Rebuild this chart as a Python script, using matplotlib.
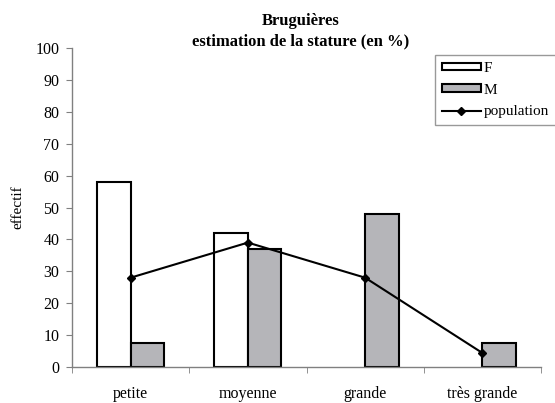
import matplotlib
matplotlib.use("Agg")
import matplotlib.pyplot as plt
import numpy as np

categories = ["petite", "moyenne", "grande", "très grande"]
femmes = [58, 42, 0, 0]
hommes = [7.5, 37, 48, 7.5]
population = [28, 39, 28, 4.4]
yticks = [0, 10, 20, 30, 40, 50, 60, 70, 80, 90, 100]

plt.rcParams["font.family"] = ["Liberation Serif", "DejaVu Serif"]

fig = plt.figure(figsize=(5.55, 4.03), dpi=100)
ax = fig.add_axes([72 / 555, 1 - 367 / 403, (541 - 72) / 555, (367 - 48) / 403])

x = np.arange(len(categories))
w = 0.286


def edges(values):
    # empty bars get no outline
    return ["black" if v > 0 else "none" for v in values]


ax.bar(x - w / 2, femmes, width=w, color="white", edgecolor=edges(femmes), linewidth=1.5, label="F")
ax.bar(x + w / 2, hommes, width=w, color="#b5b5b9", edgecolor=edges(hommes), linewidth=1.5, label="M")
lp, = ax.plot(x, population, color="black", linewidth=1.5, marker="D", markersize=4, label="population")

ax.set_xlim(-0.5, len(categories) - 0.5)
ax.set_ylim(0, 100)
ax.set_yticks(yticks)
ax.tick_params(axis="y", labelsize=11.5, length=4, color="#808080", pad=5)

ax.set_xticks(x)
ax.set_xticklabels(categories)
ax.set_xticks(np.arange(-0.5, len(categories), 1.0), minor=True)
ax.tick_params(axis="x", which="major", length=0, labelsize=11.5, pad=14)
ax.tick_params(axis="x", which="minor", length=4, color="#808080")

for side in ("top", "right"):
    ax.spines[side].set_visible(False)
for side in ("left", "bottom"):
    ax.spines[side].set_color("#808080")
    ax.spines[side].set_linewidth(1.0)

ax.set_ylabel("effectif", fontsize=11, labelpad=8)

fig.text(301 / 555, 1 - 21 / 403, "Bruguières", ha="center", va="center", fontsize=12, fontweight="bold")
fig.text(301 / 555, 1 - 41 / 403, "estimation de la stature (en %)", ha="center", va="center",
         fontsize=12, fontweight="bold")

bf_handle = plt.Rectangle((0, 0), 1, 1, facecolor="white", edgecolor="black", linewidth=1.5)
bm_handle = plt.Rectangle((0, 0), 1, 1, facecolor="#b5b5b9", edgecolor="black", linewidth=1.5)
leg = fig.legend([bf_handle, bm_handle, lp], ["F", "M", "population"],
                 loc="upper left", bbox_to_anchor=(435 / 555, 1 - 55 / 403), fontsize=11,
                 frameon=True, fancybox=False, edgecolor="#808080", handlelength=2.55,
                 handleheight=0.35, handletextpad=0.2, borderpad=0.45, labelspacing=0.57,
                 borderaxespad=0)
leg.get_frame().set_linewidth(1.0)

fig.savefig("out.png", dpi=100)
